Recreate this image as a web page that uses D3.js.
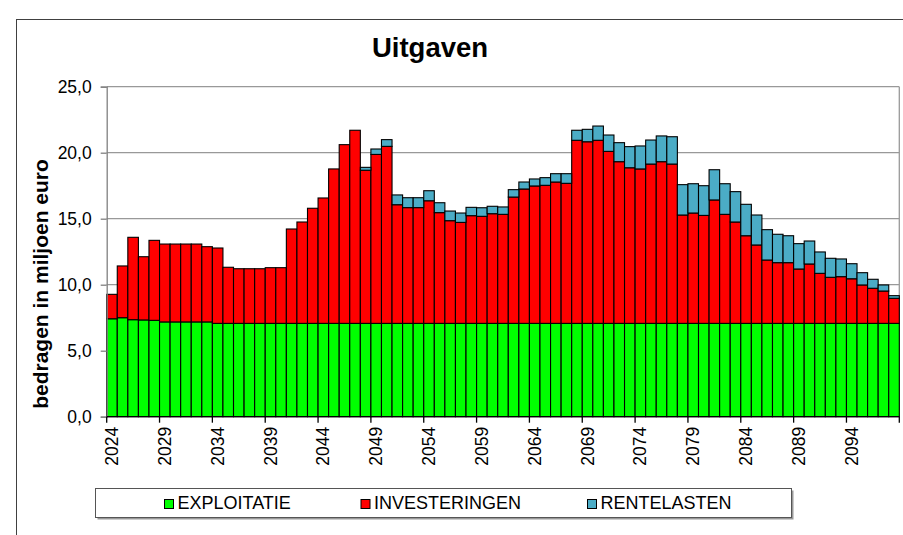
<!DOCTYPE html>
<html>
<head>
<meta charset="utf-8">
<script src="https://cdn.jsdelivr.net/npm/d3@7"></script>
<style>
  body { margin: 0; background: #fff; }
  svg { display: block; font-family: "Liberation Sans", Arial, sans-serif; }
</style>
</head>
<body>
<svg width="903" height="535"></svg>
<script>
// years 2024 .. 2098
var years = [2024,2025,2026,2027,2028,2029,2030,2031,2032,2033,2034,2035,2036,2037,2038,2039,2040,2041,2042,2043,
  2044,2045,2046,2047,2048,2049,2050,2051,2052,2053,2054,2055,2056,2057,2058,2059,2060,2061,2062,2063,
  2064,2065,2066,2067,2068,2069,2070,2071,2072,2073,2074,2075,2076,2077,2078,2079,2080,2081,2082,2083,
  2084,2085,2086,2087,2088,2089,2090,2091,2092,2093,2094,2095,2096,2097,2098];

var exploitatie = [7.42,7.5,7.35,7.33,7.3,7.18,7.18,7.18,7.18,7.18,7.07,7.07,7.07,7.07,7.07,7.07,7.07,7.07,7.07,7.07,
  7.07,7.07,7.07,7.07,7.07,7.07,7.07,7.07,7.07,7.07,7.07,7.07,7.07,7.07,7.07,7.07,7.07,7.07,7.07,7.07,
  7.07,7.07,7.07,7.07,7.07,7.07,7.07,7.07,7.07,7.07,7.07,7.07,7.07,7.07,7.07,7.07,7.07,7.07,7.07,7.07,
  7.07,7.07,7.07,7.07,7.07,7.07,7.07,7.07,7.07,7.07,7.07,7.07,7.07,7.07,7.07];

var investeringen = [1.85,3.92,6.24,4.79,6.06,5.90,5.90,5.90,5.90,5.70,5.71,4.25,4.14,4.14,4.14,4.22,4.22,7.15,7.68,8.72,
  9.50,11.70,13.54,14.63,11.60,12.80,13.41,8.99,8.77,8.77,9.29,8.39,7.78,7.65,8.16,8.11,8.31,8.26,9.57,10.18,
  10.41,10.46,10.71,10.61,13.87,13.76,13.87,13.03,12.25,11.79,11.70,12.07,12.25,12.07,8.21,8.36,8.18,9.35,8.26,7.68,
  6.64,5.94,4.80,4.60,4.60,4.12,4.50,3.79,3.49,3.54,3.38,2.91,2.66,2.45,1.90];

var rentelasten = [0,0,0,0,0,0,0,0,0,0,0,0,0,0,0,0,0,0,0,0,
  0,0,0,0,0.22,0.41,0.51,0.74,0.75,0.75,0.76,0.75,0.73,0.71,0.63,0.65,0.56,0.56,0.56,0.53,
  0.53,0.58,0.63,0.73,0.76,0.94,1.08,1.24,1.44,1.60,1.74,1.82,1.95,2.07,2.30,2.22,2.25,2.29,2.32,2.30,
  2.38,2.27,2.30,2.15,2.04,1.92,1.74,1.62,1.44,1.34,1.14,0.93,0.68,0.46,0.20];

var seriesNames = ["EXPLOITATIE", "INVESTERINGEN", "RENTELASTEN"];
var seriesColors = ["#00ff00", "#ff0000", "#4bacc6"];
var yTicks = [0, 5, 10, 15, 20, 25];

var rows = years.map(function(yr, i) {
  return { year: yr, EXPLOITATIE: exploitatie[i], INVESTERINGEN: investeringen[i], RENTELASTEN: rentelasten[i] };
});

var svg = d3.select("svg");
var plotLeft = 106.7, plotRight = 899.3, plotTop = 86.7, plotBottom = 416.7;

// outer chart frame
svg.append("rect")
  .attr("x", 16.5).attr("y", 19.5)
  .attr("width", 1000).attr("height", 1000)
  .attr("fill", "none").attr("stroke", "#404040").attr("stroke-width", 1);

var x = d3.scaleBand().domain(years).range([plotLeft, plotRight]).padding(0);
var y = d3.scaleLinear().domain([0, 25]).range([plotBottom, plotTop]);

// gridlines
svg.append("g").selectAll("line")
  .data(yTicks.slice(1))
  .enter().append("line")
  .attr("x1", plotLeft).attr("x2", plotRight)
  .attr("y1", function(d) { return y(d); })
  .attr("y2", function(d) { return y(d); })
  .attr("stroke", "#999").attr("stroke-width", 1.3);

// right border of plot
svg.append("line")
  .attr("x1", plotRight).attr("x2", plotRight).attr("y1", plotTop).attr("y2", plotBottom)
  .attr("stroke", "#999").attr("stroke-width", 1.3);

var stacked = d3.stack().keys(seriesNames)(rows);

svg.append("g").selectAll("g")
  .data(stacked)
  .enter().append("g")
  .attr("fill", function(d, i) { return seriesColors[i]; })
  .selectAll("rect")
  .data(function(d) { return d.filter(function(p) { return p[1] - p[0] > 0; }); })
  .enter().append("rect")
  .attr("x", function(d) { return x(d.data.year); })
  .attr("width", x.bandwidth())
  .attr("y", function(d) { return y(d[1]); })
  .attr("height", function(d) { return y(d[0]) - y(d[1]); })
  .attr("stroke", "#000").attr("stroke-width", 1.1);

// y axis
var yAxis = svg.append("g")
  .attr("transform", "translate(" + plotLeft + ",0)")
  .call(d3.axisLeft(y)
    .tickValues(yTicks)
    .tickSize(6)
    .tickPadding(9)
    .tickFormat(function(d) { return d3.format(".1f")(d).replace(".", ","); }));
yAxis.select(".domain").attr("stroke", "#808080").attr("stroke-width", 1.3);
yAxis.selectAll(".tick line").attr("stroke", "#808080").attr("stroke-width", 1.3);
yAxis.selectAll("text").attr("font-size", 17.5).attr("fill", "#000")
  .attr("font-family", "Liberation Sans, Arial, sans-serif");

// x axis: ticks between categories every 5 years, labels centred on bars
var labelYears = years.filter(function(d) { return (d - 2024) % 5 === 0; });
var xg = svg.append("g");
xg.append("line")
  .attr("x1", plotLeft).attr("x2", plotRight).attr("y1", plotBottom).attr("y2", plotBottom)
  .attr("stroke", "#000").attr("stroke-width", 1.3);
xg.selectAll("line.tick")
  .data(labelYears.concat([null]))
  .enter().append("line")
  .attr("class", "tick")
  .attr("x1", function(d) { return d === null ? plotRight : x(d); })
  .attr("x2", function(d) { return d === null ? plotRight : x(d); })
  .attr("y1", plotBottom).attr("y2", plotBottom + 6)
  .attr("stroke", "#000").attr("stroke-width", 1.3);
xg.selectAll("text")
  .data(labelYears)
  .enter().append("text")
  .attr("transform", function(d) {
    return "translate(" + (x(d) + x.bandwidth() / 2 + 6) + "," + (plotBottom + 10) + ") rotate(-90)";
  })
  .attr("text-anchor", "end")
  .attr("font-size", 17.5)
  .text(function(d) { return d; });

// title
svg.append("text")
  .attr("x", 430).attr("y", 57)
  .attr("text-anchor", "middle")
  .attr("font-size", 27.5).attr("font-weight", "bold")
  .text("Uitgaven");

svg.append("text")
  .attr("transform", "translate(48,284) rotate(-90)")
  .attr("text-anchor", "middle")
  .attr("font-size", 21).attr("font-weight", "bold")
  .text("bedragen in miljoen euro");

// legend
var legend = svg.append("g");
legend.append("rect")
  .attr("x", 97.5).attr("y", 490.5).attr("width", 696).attr("height", 29)
  .attr("fill", "#999");
legend.append("rect")
  .attr("x", 95.5).attr("y", 488.5).attr("width", 696).attr("height", 29)
  .attr("fill", "#fff").attr("stroke", "#555").attr("stroke-width", 1);
var legendX = [164, 360.5, 587];
var item = legend.selectAll("g.item")
  .data(seriesNames)
  .enter().append("g")
  .attr("class", "item")
  .attr("transform", function(d, i) { return "translate(" + legendX[i] + ",0)"; });
item.append("rect")
  .attr("x", 0.5).attr("y", 499.5).attr("width", 9).attr("height", 9)
  .attr("fill", function(d, i) { return seriesColors[i]; })
  .attr("stroke", "#000").attr("stroke-width", 1);
item.append("text")
  .attr("x", 13.5).attr("y", 508.7)
  .attr("font-size", 18)
  .text(function(d) { return d; });
</script>
</body>
</html>
